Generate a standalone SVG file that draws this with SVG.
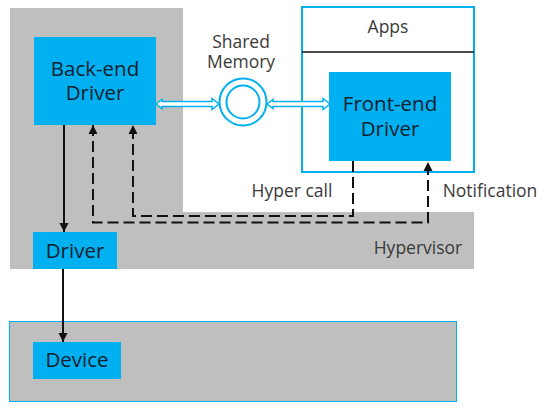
<svg xmlns="http://www.w3.org/2000/svg" width="545" height="411" viewBox="0 0 545 411">
<defs>
<style>
.bg{fill:#bfbfbf}
.blue{fill:#00b0f0}
.t{font-family:"Open Sans","Noto Sans",sans-serif;font-size:20.5px;text-anchor:middle}
.tn{fill:#10202e}
.tg{fill:#3a3a3a;font-size:17.5px}
.ln{fill:none;stroke:#111;stroke-width:2}
.dash{stroke-dasharray:11,5}
.hollow{fill:#fff;stroke:#00b0f0;stroke-width:1.5;stroke-linejoin:miter}
</style>
<marker id="ah" viewBox="0 0 10 10" refX="10" refY="5" markerWidth="9" markerHeight="11" markerUnits="userSpaceOnUse" orient="auto-start-reverse">
<path d="M0,0 L10,5 L0,10 Z" fill="#111"/>
</marker>
</defs>
<rect width="545" height="411" fill="#fff"/>
<g id="vm-area">
<path class="bg" d="M10,8 H183 V212 H474 V269 H10 Z"/>
</g>
<g id="hypervisor">
<text class="t tg" x="418" y="254">Hypervisor</text>
</g>
<g id="hardware">
<rect x="9.5" y="321.5" width="447" height="80" fill="#bfbfbf" stroke="#00b0f0" stroke-width="1"/>
</g>
<g id="apps">
<rect x="302" y="7" width="172" height="165" fill="#fff" stroke="#00b0f0" stroke-width="2"/>
<line x1="302" y1="52" x2="474" y2="52" stroke="#111" stroke-width="1.5"/>
<text class="t tg" x="388" y="33">Apps</text>
</g>
<g id="backend-driver">
<rect class="blue" x="34" y="37" width="122" height="88"/>
<text class="t tn" x="95" y="76">Back-end</text>
<text class="t tn" x="95" y="100">Driver</text>
</g>
<g id="frontend-driver">
<rect class="blue" x="329" y="72" width="122" height="89"/>
<text class="t tn" x="390" y="111">Front-end</text>
<text class="t tn" x="390" y="136">Driver</text>
</g>
<g id="driver">
<rect class="blue" x="33" y="232" width="84" height="37"/>
<text class="t tn" x="75" y="258">Driver</text>
</g>
<g id="device">
<rect class="blue" x="33" y="342" width="88" height="37"/>
<text class="t tn" x="77" y="367">Device</text>
</g>
<g id="shared-memory">
<circle cx="243" cy="102" r="23.5" fill="#fff" stroke="#00b0f0" stroke-width="2"/>
<circle cx="243" cy="102" r="16.5" fill="none" stroke="#00b0f0" stroke-width="2"/>
<text class="t tg" x="241" y="48">Shared</text>
<text class="t tg" x="241" y="68">Memory</text>
</g>
<g id="connectors">
<path class="hollow" d="M156,104 L162,99.5 L162,101.5 L212,101.5 L212,98.5 L219,104 L212,109.5 L212,106.5 L162,106.5 L162,108.5 Z"/>
<path class="hollow" d="M267,104 L273,99.5 L273,101.5 L323,101.5 L323,98.5 L330,104 L323,109.5 L323,106.5 L273,106.5 L273,108.5 Z"/>
<line class="ln" x1="64" y1="125" x2="64" y2="232" marker-end="url(#ah)"/>
<line class="ln" x1="63" y1="269" x2="63" y2="342" marker-end="url(#ah)"/>
<path class="ln dash" d="M353,161 V216 H133 V125" marker-end="url(#ah)"/>
<path class="ln dash" d="M93,125 V222.5 H428 V162" marker-start="url(#ah)" marker-end="url(#ah)"/>
<text class="t tg" x="292" y="197">Hyper call</text>
<text class="t tg" x="490" y="197">Notification</text>
</g>
</svg>
